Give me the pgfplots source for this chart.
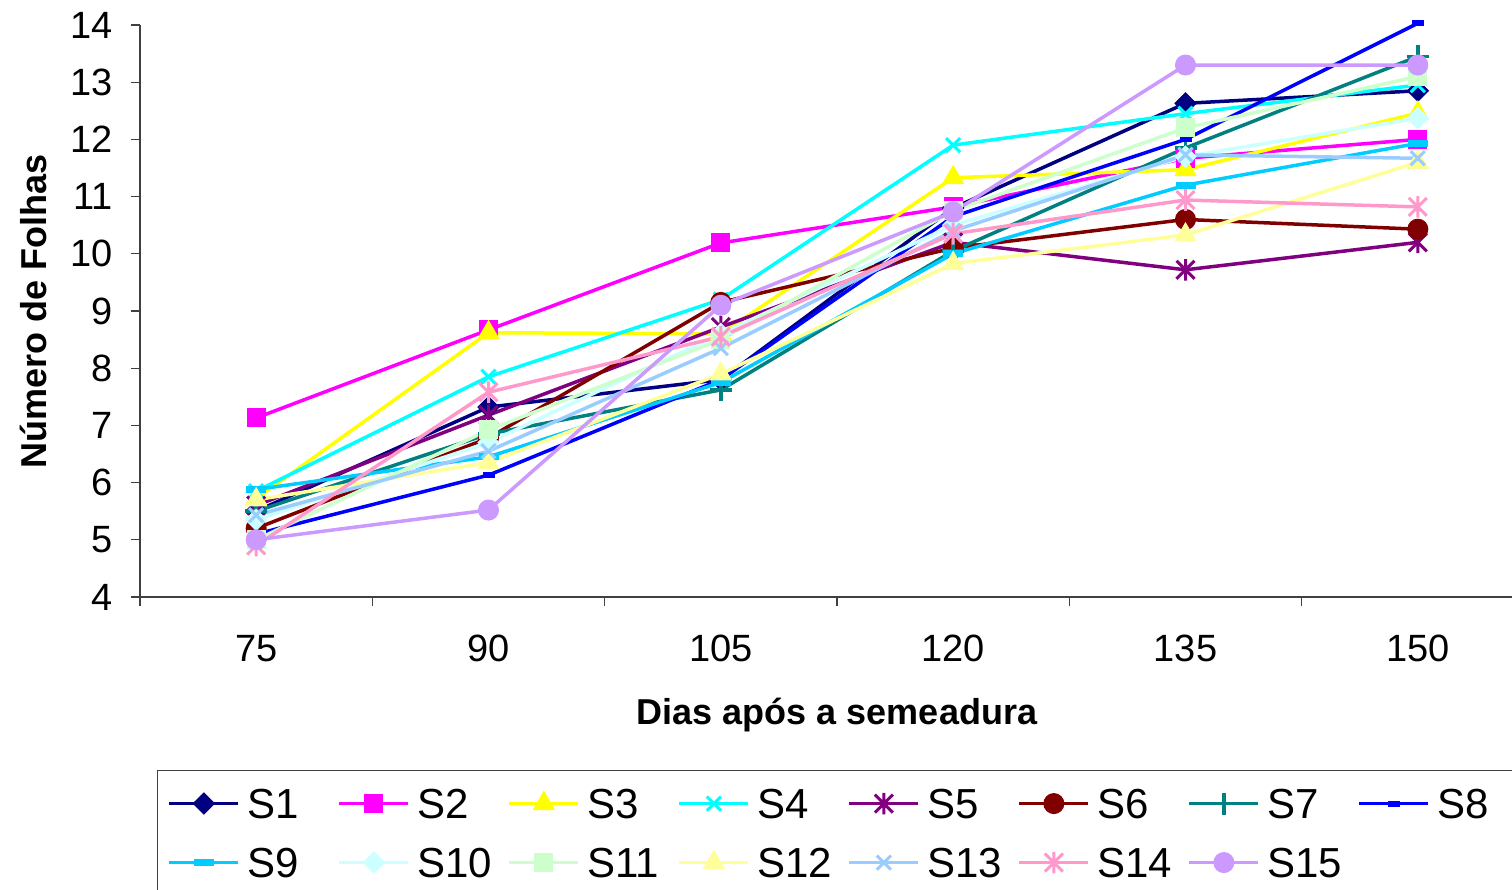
\documentclass[border=0pt]{standalone}
\usepackage{fontspec}
\setmainfont{Liberation Sans}
\usepackage{pgfplots}
\pgfplotsset{compat=1.18}
\definecolor{c1}{HTML}{000080}
\definecolor{c2}{HTML}{FF00FF}
\definecolor{c3}{HTML}{FFFF00}
\definecolor{c4}{HTML}{00FFFF}
\definecolor{c5}{HTML}{800080}
\definecolor{c6}{HTML}{800000}
\definecolor{c7}{HTML}{008080}
\definecolor{c8}{HTML}{0000FF}
\definecolor{c9}{HTML}{00CCFF}
\definecolor{c10}{HTML}{CCFFFF}
\definecolor{c11}{HTML}{CCFFCC}
\definecolor{c12}{HTML}{FFFF99}
\definecolor{c13}{HTML}{99CCFF}
\definecolor{c14}{HTML}{FF99CC}
\definecolor{c15}{HTML}{CC99FF}
\pgfdeclareplotmark{mydiamond}{%
  \pgfpathmoveto{\pgfqpoint{0pt}{\pgfplotmarksize}}%
  \pgfpathlineto{\pgfqpoint{\pgfplotmarksize}{0pt}}%
  \pgfpathlineto{\pgfqpoint{0pt}{-\pgfplotmarksize}}%
  \pgfpathlineto{\pgfqpoint{-\pgfplotmarksize}{0pt}}%
  \pgfpathclose\pgfusepathqfillstroke}
\pgfdeclareplotmark{xast}{%
  \pgfpathmoveto{\pgfqpoint{-\pgfplotmarksize}{-\pgfplotmarksize}}%
  \pgfpathlineto{\pgfqpoint{\pgfplotmarksize}{\pgfplotmarksize}}%
  \pgfpathmoveto{\pgfqpoint{-\pgfplotmarksize}{\pgfplotmarksize}}%
  \pgfpathlineto{\pgfqpoint{\pgfplotmarksize}{-\pgfplotmarksize}}%
  \pgfpathmoveto{\pgfqpoint{0pt}{-1.2\pgfplotmarksize}}%
  \pgfpathlineto{\pgfqpoint{0pt}{1.2\pgfplotmarksize}}%
  \pgfusepathqstroke}
\begin{document}
\begin{tikzpicture}
\path[use as bounding box] (0,0) rectangle (1512pt,890pt);
\begin{axis}[
  at={(140pt,293pt)}, anchor=south west,
  scale only axis, width=1394pt, height=572pt,
  xmin=-0.5, xmax=5.5, ymin=4, ymax=14,
  clip=false,
  axis x line=bottom, axis y line=left,
  axis line style={-, line width=1.2pt, black!75},
  every tick/.style={line width=1.2pt, black!75},
  xtick={0,1,2,3,4,5},
  xticklabels={75,90,105,120,135,150},
  major x tick style={draw=none},
  minor xtick={-0.5,0.5,1.5,2.5,3.5,4.5,5.5},
  minor tick length=9pt,
  ytick={4,5,...,14},
  tick align=outside,
  major tick length=9pt,
  /pgf/number format/assume math mode=true,
  ticklabel style={font=\fontsize{38}{44}\selectfont},
  xticklabel style={inner sep=0pt, yshift=-29pt},
  yticklabel style={inner sep=0pt, xshift=-18pt},
  xlabel={\bfseries Dias após a semeadura},
  ylabel={\bfseries Número de Folhas},
  xlabel style={font=\fontsize{36}{42}\selectfont, at={(axis description cs:0.5,0)}, anchor=base, yshift=-128pt},
  ylabel style={font=\fontsize{36}{42}\selectfont, at={(axis description cs:0,0.5)}, anchor=base, yshift=93pt},
  legend columns=8,
  legend cell align=left,
  legend image code/.code={\draw[mark repeat=2,mark phase=2] plot coordinates {(0pt,0pt) (34.5pt,0pt) (69pt,0pt)};},
  legend style={at={(axis description cs:0.0122,-0.3024)}, anchor=north west,
    draw=black!75, line width=1.2pt,
    inner xsep=10pt, inner ysep=18pt, row sep=29pt,
    font=\fontsize{42}{50}\selectfont,
    nodes={inner sep=0pt, text height=30pt, text depth=0pt, text width=90.5pt, align=left, anchor=west},
    /tikz/every odd column/.append style={column sep=7pt},
    /tikz/every even column/.append style={column sep=0pt}},
  every axis plot/.append style={line width=3.5pt},
]
\addplot[c1, mark=mydiamond, mark size=10.5pt, mark options={fill=c1, line width=1pt}] coordinates {(0,5.5) (1,7.32) (2,7.8) (3,10.8) (4,12.63) (5,12.85)};
\addlegendentry{S1}
\addplot[c2, mark=square*, mark size=9pt, mark options={fill=c2, line width=1pt}] coordinates {(0,7.13) (1,8.67) (2,10.19) (3,10.82) (4,11.67) (5,12.0)};
\addlegendentry{S2}
\addplot[c3, mark=triangle*, mark size=12pt, mark options={fill=c3, line width=1pt}] coordinates {(0,5.72) (1,8.62) (2,8.6) (3,11.33) (4,11.47) (5,12.46)};
\addlegendentry{S3}
\addplot[c4, mark=x, mark size=10pt, mark options={line width=3pt}] coordinates {(0,5.85) (1,7.85) (2,9.2) (3,11.9) (4,12.45) (5,12.95)};
\addlegendentry{S4}
\addplot[c5, mark=xast, mark size=9pt, mark options={line width=3pt}] coordinates {(0,5.6) (1,7.18) (2,8.72) (3,10.2) (4,9.72) (5,10.2)};
\addlegendentry{S5}
\addplot[c6, mark=*, mark size=10pt, mark options={fill=c6, line width=1pt}] coordinates {(0,5.2) (1,6.78) (2,9.15) (3,10.1) (4,10.6) (5,10.43)};
\addlegendentry{S6}
\addplot[c7, mark=+, mark size=11pt, mark options={line width=3.5pt}] coordinates {(0,5.5) (1,6.85) (2,7.62) (3,10.05) (4,11.85) (5,13.45)};
\addlegendentry{S7}
\addplot[c8, mark=-, mark size=6pt, mark options={line width=6pt}] coordinates {(0,5.1) (1,6.13) (2,7.8) (3,10.65) (4,12.0) (5,14.03)};
\addlegendentry{S8}
\addplot[c9, mark=-, mark size=10pt, mark options={line width=7pt}] coordinates {(0,5.88) (1,6.45) (2,7.75) (3,10.0) (4,11.2) (5,11.93)};
\addlegendentry{S9}
\addplot[c10, mark=mydiamond, mark size=10.5pt, mark options={fill=c10, line width=1pt}] coordinates {(0,5.35) (1,6.7) (2,8.6) (3,10.5) (4,11.7) (5,12.37)};
\addlegendentry{S10}
\addplot[c11, mark=square*, mark size=9pt, mark options={fill=c11, line width=1pt}] coordinates {(0,5.0) (1,6.92) (2,8.5) (3,10.75) (4,12.2) (5,13.1)};
\addlegendentry{S11}
\addplot[c12, mark=triangle*, mark size=12pt, mark options={fill=c12, line width=1pt}] coordinates {(0,5.7) (1,6.35) (2,7.9) (3,9.83) (4,10.33) (5,11.6)};
\addlegendentry{S12}
\addplot[c13, mark=x, mark size=10pt, mark options={line width=3pt}] coordinates {(0,5.43) (1,6.55) (2,8.35) (3,10.4) (4,11.73) (5,11.67)};
\addlegendentry{S13}
\addplot[c14, mark=xast, mark size=9pt, mark options={line width=3pt}] coordinates {(0,4.9) (1,7.58) (2,8.55) (3,10.35) (4,10.94) (5,10.82)};
\addlegendentry{S14}
\addplot[c15, mark=*, mark size=10pt, mark options={fill=c15, line width=1pt}] coordinates {(0,5.0) (1,5.52) (2,9.1) (3,10.73) (4,13.3) (5,13.3)};
\addlegendentry{S15}
\end{axis}
\end{tikzpicture}
\end{document}
